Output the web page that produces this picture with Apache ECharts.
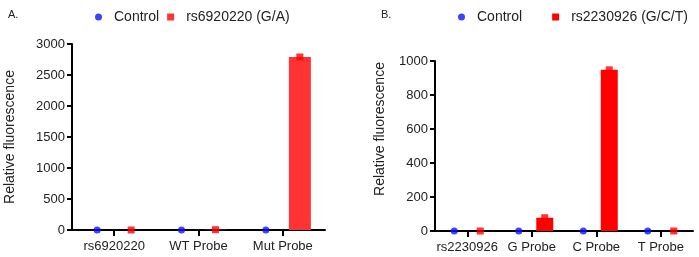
<!DOCTYPE html>
<html>
<head>
<meta charset="utf-8">
<script src="https://cdn.jsdelivr.net/npm/echarts@6/dist/echarts.min.js"></script>
<style>
  html, body { margin: 0; padding: 0; background: #fff; }
  #chart { width: 699px; height: 257px; }
</style>
</head>
<body>
<div id="chart"></div>
<script>
// 数据
var catsA = ['rs6920220', 'WT Probe', 'Mut Probe'];
var ctrlA = [0, 0, 0];
var mutA = [0, 5, 2790];
var nameA = 'rs6920220 (G/A)';

var catsB = ['rs2230926', 'G Probe', 'C Probe', 'T Probe'];
var ctrlB = [0, 0, 0, 0];
var mutB = [0, 78, 948, 0];
var nameB = 'rs2230926 (G/C/T)';

var FONT = '"Liberation Sans", Arial, sans-serif';
var BLUE = '#1010ff';
var RED = '#ff0000';

function xAxisFor(idx, cats) {
    return {
        type: 'category', gridIndex: idx, data: cats,
        axisLine: { show: true, onZero: false, lineStyle: { color: '#000', width: 2 } },
        axisTick: { show: true, interval: 0, alignWithLabel: true, length: 6,
                    lineStyle: { width: 2, color: '#000' } },
        axisLabel: { color: '#222', fontFamily: FONT, fontSize: 13, margin: 10, interval: 0 },
        splitLine: { show: false }
    };
}
function yAxisFor(idx, max, step, gap, pad) {
    return {
        type: 'value', gridIndex: idx, min: 0, max: max, interval: step,
        name: 'Relative fluorescence', nameLocation: 'middle', nameGap: gap,
        nameTextStyle: { color: '#222', fontFamily: FONT, fontSize: 14, padding: pad },
        axisLine: { show: true, lineStyle: { color: '#000', width: 2 } },
        axisTick: { show: true, length: 5, lineStyle: { width: 2, color: '#000' } },
        axisLabel: { color: '#222', fontFamily: FONT, fontSize: 13, margin: 7,
                     formatter: function (v) { return String(v); } },
        splitLine: { show: false }
    };
}
function seriesFor(idx, ctrl, mut, name, bw, gap, off, barColor) {
    return [
        { type: 'bar', name: 'ctrl' + idx, xAxisIndex: idx, yAxisIndex: idx, data: ctrl,
          barWidth: bw, barGap: gap, itemStyle: { color: BLUE } },
        { type: 'bar', name: name, xAxisIndex: idx, yAxisIndex: idx, data: mut,
          barWidth: bw, barGap: gap, itemStyle: { color: barColor } },
        { type: 'scatter', name: 'Control', xAxisIndex: idx, yAxisIndex: idx, data: ctrl,
          symbol: 'circle', symbolSize: 7, symbolOffset: [-off, 0], z: 5,
          itemStyle: { color: BLUE } },
        { type: 'scatter', name: name, xAxisIndex: idx, yAxisIndex: idx, data: mut,
          symbol: 'rect', symbolSize: 7, symbolOffset: [off, 0], z: 5,
          itemStyle: { color: RED } }
    ];
}

var chart = echarts.init(document.getElementById('chart'));
chart.setOption({
    animation: false,
    backgroundColor: '#fff',
    title: [
        { text: 'A.', left: 3, top: 4, textStyle: { fontFamily: FONT, fontSize: 11, fontWeight: 'normal', color: '#222' } },
        { text: 'B.', left: 376, top: 4, textStyle: { fontFamily: FONT, fontSize: 11, fontWeight: 'normal', color: '#222' } }
    ],
    legend: [
        { left: 90, top: 5, itemWidth: 7, itemHeight: 7, itemGap: 8,
          textStyle: { fontFamily: FONT, fontSize: 14, color: '#222', padding: [0, 0, 0, 7] },
          data: [{ name: 'Control', icon: 'circle' }, { name: nameA, icon: 'rect' }] },
        { left: 453, top: 5, itemWidth: 7, itemHeight: 7, itemGap: 30,
          textStyle: { fontFamily: FONT, fontSize: 14, color: '#222', padding: [0, 0, 0, 7] },
          data: [{ name: 'Control', icon: 'circle' }, { name: nameB, icon: 'rect' }] }
    ],
    grid: [
        { left: 72, right: 374, top: 44, bottom: 27 },
        { left: 435, right: 6, top: 61, bottom: 26 }
    ],
    xAxis: [xAxisFor(0, catsA), xAxisFor(1, catsB)],
    yAxis: [yAxisFor(0, 3000, 500, 55, 0), yAxisFor(1, 1000, 200, 48, [0, 0, 0, 34])],
    series: seriesFor(0, ctrlA, mutA, nameA, 22, '55%', 17, '#ff3333')
        .concat(seriesFor(1, ctrlB, mutB, nameB, 17, '53%', 13, RED))
});
</script>
</body>
</html>
